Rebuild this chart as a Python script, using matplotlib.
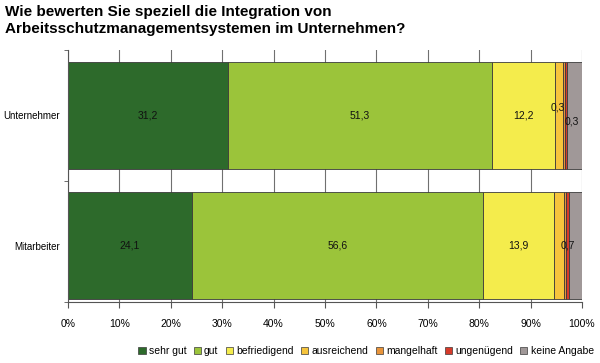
import matplotlib.pyplot as plt
import numpy as np

plt.rcParams['font.family'] = ['Liberation Sans', 'DejaVu Sans']

categories = ['Mitarbeiter', 'Unternehmer']
series = ['sehr gut', 'gut', 'befriedigend', 'ausreichend', 'mangelhaft', 'ungenügend', 'keine Angabe']
values = {
    'sehr gut':     [24.1, 31.2],
    'gut':          [56.6, 51.3],
    'befriedigend': [13.9, 12.2],
    'ausreichend':  [1.9, 1.7],
    'mangelhaft':   [0.3, 0.3],
    'ungenügend':   [0.7, 0.3],
    'keine Angabe': [2.5, 3.0],
}
colors = ['#2d6a2b', '#9bc43a', '#f4ec4c', '#f6c43c', '#e8943a', '#d63a2a', '#a09898']
# which labels are shown: (series, category index, x offset in points, y offset in points)
shown = [
    ('sehr gut', 0, 0, 0), ('sehr gut', 1, 0, 0),
    ('gut', 0, 0, 0), ('gut', 1, 0, 0),
    ('befriedigend', 0, 0, 0), ('befriedigend', 1, 0, 0),
    ('mangelhaft', 1, -5, 6), ('ungenügend', 1, 4.5, -4.5),
    ('ungenügend', 0, 0, 0),
]

fig = plt.figure(figsize=(6, 3.63), dpi=100)
ax = fig.add_axes([0.1133, 0.168, 0.8567, 0.694])

y = np.arange(len(categories))
left = np.zeros(len(categories))
starts = {}
for name, col in zip(series, colors):
    v = np.array(values[name])
    ax.barh(y, v, left=left, height=0.82, color=col, edgecolor='#3a3a3a', linewidth=0.6,
            label=name, zorder=2)
    starts[name] = left.copy()
    left = left + v

for name, i, dx, dy in shown:
    v = values[name][i]
    xc = starts[name][i] + v / 2
    ax.annotate(f'{v:.1f}'.replace('.', ','), (xc, y[i]), xytext=(dx, dy),
                textcoords='offset points', ha='center', va='center', fontsize=7.5, color='#111111')

ax.set_xlim(0, 100)
ax.set_ylim(-0.43, 1.5)
ax.set_xticks(np.arange(0, 101, 10))
ax.set_xticklabels([f'{t}%' for t in range(0, 101, 10)], fontsize=7.5)
ax.set_yticks(y)
ax.set_yticklabels(categories, fontsize=7)
ax.tick_params(axis='y', length=0, pad=6)
ax.set_yticks([-0.43, 0.5, 1.5], minor=True)
ax.tick_params(axis='y', which='minor', length=3, color='#555555')
ax.tick_params(axis='x', length=4, color='#555555', pad=8)
ax.grid(axis='x', color='#707070', linewidth=0.8, zorder=0)
for s in ['top', 'right']:
    ax.spines[s].set_visible(False)
for s in ['left', 'bottom']:
    ax.spines[s].set_color('#555555')
    ax.spines[s].set_linewidth(0.8)

fig.text(0.008, 0.985, 'Wie bewerten Sie speziell die Integration von\nArbeitsschutzmanagementsystemen im Unternehmen?',
         fontsize=11, fontweight='bold', va='top', ha='left', linespacing=1.25)

leg = fig.legend(loc='center', bbox_to_anchor=(0.61, 0.033), ncol=7, frameon=False, fontsize=7.5,
                 handlelength=0.7, handleheight=0.7, handletextpad=0.3, columnspacing=0.7)
for h in leg.legend_handles:
    h.set_linewidth(0.5)

fig.savefig('out.png', dpi=100)
